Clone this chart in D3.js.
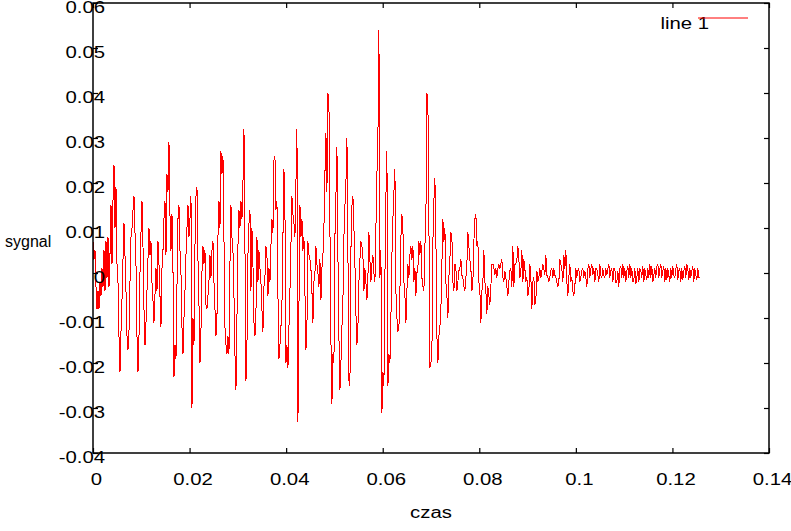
<!DOCTYPE html>
<html><head><meta charset="utf-8">
<script src="https://cdn.jsdelivr.net/npm/d3@7/dist/d3.min.js"></script>
<style>
body{margin:0;background:#fff}
svg text{font-family:"Liberation Sans",Arial,Helvetica,sans-serif;font-size:16px;fill:#000}
</style>
</head><body>
<svg id="chart" width="791" height="531"></svg>
<script>
// ---- data ----
const sampleRate = 4830; // samples per second (time step of the recording)
const signal = [
.007,.003,.005,-.003,-.008,-.004,-.008,-.002,-.005,.001,
-.003,.005,-.004,.007,-.001,.008,-.003,.004,.015,.002,
.016,.024,.010,.019,.002,-.002,-.014,-.022,-.013,-.006,
.003,.011,.004,-.004,-.014,-.017,-.013,-.002,.008,.010,
.014,.017,.009,.002,-.014,-.022,-.014,0,.009,.016,
.006,-.008,-.016,-.011,-.004,.003,.010,.004,.007,-.002,
-.006,-.011,-.005,.001,-.004,.007,.002,-.005,-.012,.001,
.005,.012,.016,.004,.022,.018,.029,.013,.005,.013,
.001,
-.023,-.016,-.019,-.003,.012,.015,.005,0,-.012,-.018,
-.010,-.004,.004,.010,.015,.008,.012,.017,-.030,-.010,
-.016,.006,.017,.019,.003,-.007,-.020,-.013,0,.006,
.002,.005,-.007,-.008,-.005,-.002,.004,-.001,.005,.007,
-.002,-.008,-.014,-.010,.008,.016,.010,.027,.022,.026,
.008,-.012,-.016,-.018,-.014,-.018,.002,.015,.008,.005,
-.005,-.018,-.026,-.010,.006,.014,.010,.016,.012,.020,
.032,.006,-.024,-.016,.004,.011,.014,-.004,.010,.002,
-.011,-.014,-.009,.008,-.002,.005,.001,-.002,-.008,-.013,
-.003,-.001,.006,.004,-.005,.001,-.002,.006,.012,.009,
.025,.026,.014,.016,-.005,-.019,-.016,-.012,-.007,.008,
.023,.014,-.020,-.016,-.021,-.012,-.004,.006,.017,.013,
.011,.008,.020,.032,-.033,-.008,.015,.008,.012,.005,
.008,-.004,-.017,-.012,.007,.004,.003,.001,-.004,-.011,
-.002,0,.006,.002,0,-.003,.003,-.006,.001,.004,
.010,.022,.031,.018,.040,.038,.010,-.015,-.029,-.018,
-.020,.008,.017,.028,.004,-.014,-.026,-.020,-.012,-.006,
.008,.015,.020,.030,.005,-.024,-.025,.005,.015,.017,
.010,.002,-.009,-.016,-.012,-.002,.003,.007,.006,.004,
-.004,.001,-.002,-.006,-.001,.009,.003,-.002,.002,.004,
0,-.002,.010,.022,.030,.054,-.001,.005,-.031,-.022,
-.025,-.001,.017,.027,-.025,-.018,-.020,-.010,.004,.012,
.018,.023,-.004,-.010,-.013,-.012,-.004,.008,.013,.010,
-.002,-.005,-.011,-.004,.002,-.001,.004,.006,.003,.006,
-.002,.001,-.005,0,.001,.007,.004,.007,-.001,-.003,
-.004,.006,.012,.040,.038,.012,-.021,-.020,-.018,.007,
.016,.021,.008,-.014,-.020,-.014,-.012,-.008,.002,.012,
.007,.010,-.002,-.005,-.010,-.001,.003,.009,.008,-.002,
-.004,.002,.001,-.004,-.002,.0005,.001,.003,-.0005,-.001,
-.003,-.004,-.001,.002,.009,.006,.003,.001,-.004,-.002,
.007,.012,.013,.006,.007,-.002,-.004,-.011,-.004,-.002,
.005,-.002,-.004,-.009,-.003,-.005,-.007,-.003,.002,.002,
.001,-.0005,.001,-.001,.001,.002,.001,.002,.003,-.001,
-.002,.0005,-.001,-.003,-.005,-.002,.0005,.001,-.003,.006,
-.003,.002,.002,.003,.006,.003,-.001,.0005,.005,-.002,
.003,.001,-.002,-.001,-.005,-.004,.002,-.001,-.008,-.002,
-.001,-.007,-.006,.0005,-.002,-.001,.001,-.001,.0005,.002,
.001,-.0005,.004,-.0005,-.001,-.002,-.001,.0005,.001,-.001,
.001,-.0005,-.001,-.002,-.003,-.002,.003,.002,.001,-.002,
.004,.001,.005,-.002,-.005,-.001,.002,-.002,-.001,-.004,
-.005,-.003,.001,-.001,.0005,.001,-.002,-.001,.0005,.001,
-.001,.0005,-.001,-.003,.001,.002,-.001,.001,.002,-.0005,
.001,-.002,.001,.001,-.0005,-.002,.002,-.0005,-.001,.001,
-.0005,-.001,.001,-.0005,.001,.002,-.001,.0005,.001,-.002,
.001,.001,-.002,-.002,.0005,-.003,.001,
.0015,-.001,.002,-.001,.001,-.002,.0005,.0015,-.001,.002,
-.001,.001,-.002,-.0015,.001,-.0025,-.001,.001,-.002,.001,
.0005,-.001,.0015,-.002,.001,-.0005,-.0015,.001,-.001,.002,
-.001,.0015,-.002,-.0005,.001,-.001,.0015,.002,-.001,.001,
.002,-.001,.0005,.0015,-.002,.001,-.0015,.001,-.0005,-.002,
.001,-.001,.0015,-.0005,-.001,.001,.002,-.0015,.0005,.001,
-.002,.001,-.0015,.0005,.0015,-.001,.002,.001,-.0015,.001,
-.001,.0005,.0015,-.002,.001,-.0005,-.0015,.001,-.001,-.001
];
const xTicks = [0, 0.02, 0.04, 0.06, 0.08, 0.1, 0.12, 0.14];
const yTicks = [-0.04, -0.03, -0.02, -0.01, 0, 0.01, 0.02, 0.03, 0.04, 0.05, 0.06];
const xTitle = "czas";
const yTitle = "sygnal";
const seriesName = "line 1";

// ---- layout ----
const W = 791, H = 531;
const plot = {left: 93, top: 3, right: 769, bottom: 453};
const stretch = 1.27;
const fmt = d => { const s = String(+d.toFixed(2)); return s === "-0" ? "0" : s; };

const svg = d3.select("#chart");
const x = d3.scaleLinear().domain([0, 0.14]).range([plot.left, plot.right]);
const y = d3.scaleLinear().domain([-0.04, 0.06]).range([plot.bottom, plot.top]);

function widen(sel, k = stretch) {
  sel.each(function () {
    const w = this.getComputedTextLength();
    this.setAttribute("textLength", (w * k).toFixed(2));
    this.setAttribute("lengthAdjust", "spacingAndGlyphs");
  });
}

// data line
const line = d3.line()
  .x((d, i) => x(i / sampleRate))
  .y(d => y(d));
svg.append("path")
  .datum(signal)
  .attr("d", line)
  .attr("fill", "none")
  .attr("stroke", "#ff0000")
  .attr("stroke-width", 1)
  .attr("shape-rendering", "crispEdges");

// axes (inward ticks on all four sides)
const gB = svg.append("g").attr("transform", `translate(0,${plot.bottom})`)
  .call(d3.axisBottom(x).tickValues(xTicks).tickSizeInner(-5).tickSizeOuter(0).tickPadding(20).tickFormat(fmt));
const gT = svg.append("g").attr("transform", `translate(0,${plot.top})`)
  .call(d3.axisTop(x).tickValues(xTicks).tickSizeInner(-5).tickSizeOuter(0).tickFormat(""));
const gL = svg.append("g").attr("transform", `translate(${plot.left},0)`)
  .call(d3.axisLeft(y).tickValues(yTicks).tickSizeInner(-5).tickSizeOuter(0).tickPadding(-12).tickFormat(fmt));
const gR = svg.append("g").attr("transform", `translate(${plot.right},0)`)
  .call(d3.axisRight(y).tickValues(yTicks).tickSizeInner(-5).tickSizeOuter(0).tickFormat(""));

[gB, gT, gL, gR].forEach(g => {
  g.select(".domain").remove();
  g.selectAll("line").attr("stroke", "#000").attr("stroke-width", 1.2);
  g.selectAll("text").attr("font-size", null).attr("font-family", null).attr("fill", "#000");
});
gB.selectAll("text").attr("dx", 3).attr("dy", "0.72em");
gL.selectAll("text").attr("dy", 9);
widen(gB.selectAll("text"));
widen(gL.selectAll("text"));

// frame
svg.append("rect")
  .attr("x", plot.left).attr("y", plot.top)
  .attr("width", plot.right - plot.left).attr("height", plot.bottom - plot.top)
  .attr("fill", "none").attr("stroke", "#000").attr("stroke-width", 1.5);

// axis titles
svg.append("text").attr("x", (plot.left + plot.right) / 2).attr("y", 518)
  .attr("text-anchor", "middle").text(xTitle).call(widen);
svg.append("text").attr("x", 5).attr("y", 247)
  .attr("text-anchor", "start").text(yTitle);

// legend
svg.append("text").attr("x", 709).attr("y", 29).attr("text-anchor", "end").text(seriesName).call(widen);
svg.append("line").attr("x1", 698).attr("x2", 748).attr("y1", 18).attr("y2", 18)
  .attr("stroke", "#ff0000").attr("stroke-width", 1);
</script>
</body></html>
